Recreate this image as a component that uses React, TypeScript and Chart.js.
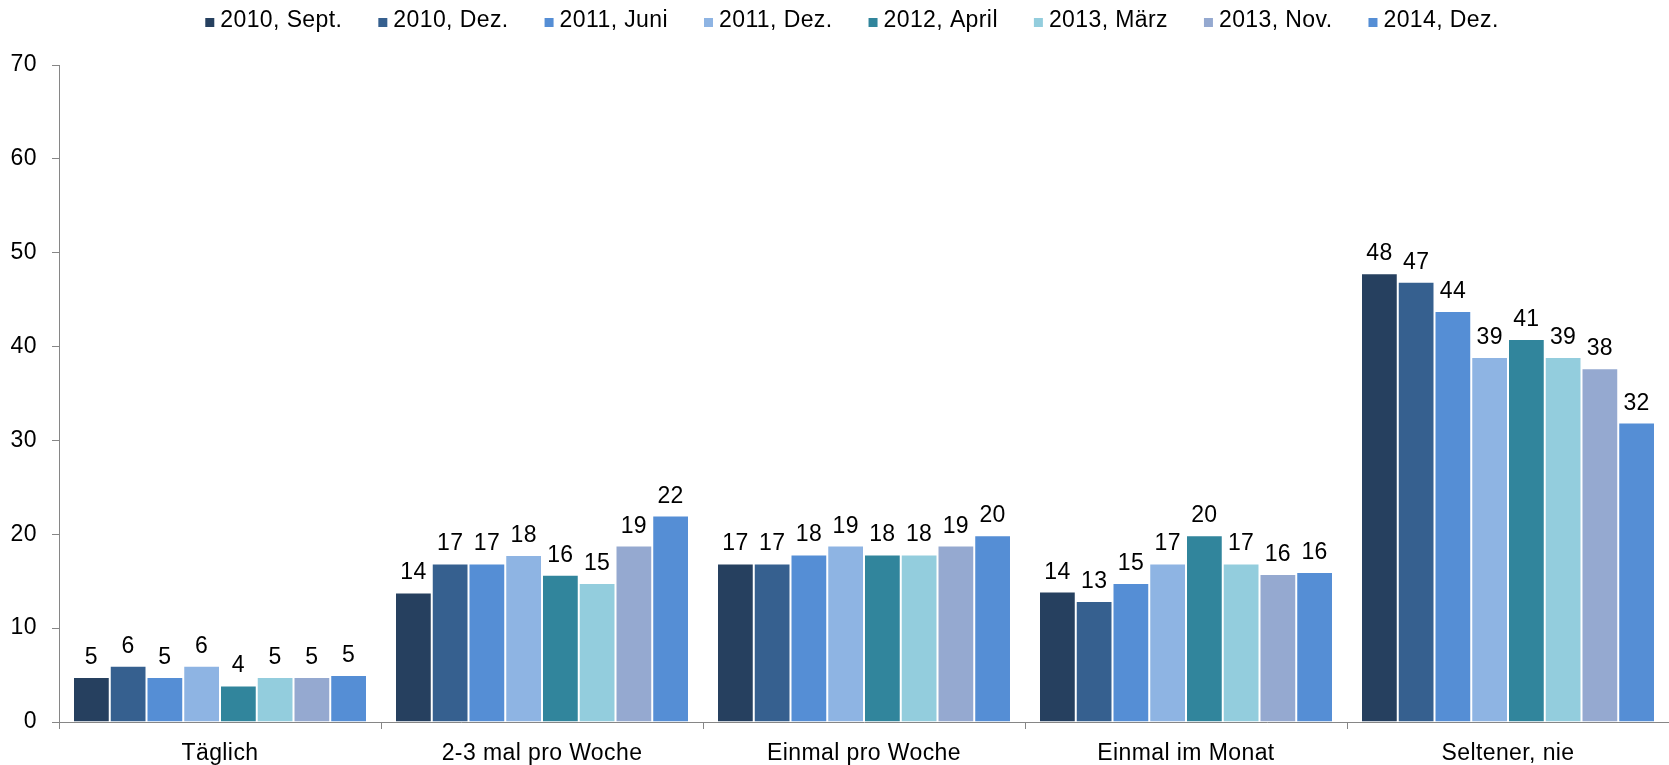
import React, { useEffect, useRef } from "react";
import { Chart, registerables } from "chart.js";

Chart.register(...registerables);

const categories = ["Täglich", "2-3 mal pro Woche", "Einmal pro Woche", "Einmal im Monat", "Seltener, nie"];
const seriesNames = ["2010, Sept.", "2010, Dez.", "2011, Juni", "2011, Dez.", "2012, April", "2013, März", "2013, Nov.", "2014, Dez."];
const seriesColors = ["#26405F", "#36608F", "#558ED5", "#8EB4E3", "#31859C", "#93CDDD", "#95A9D0", "#558ED5"];

const sept2010 = [4.8, 13.8, 16.9, 13.9, 47.8];
const dez2010 = [6.0, 16.9, 16.9, 12.9, 46.9];
const juni2011 = [4.8, 16.9, 17.85, 14.8, 43.8];
const dez2011 = [6.0, 17.8, 18.8, 16.9, 38.9];
const april2012 = [3.9, 15.7, 17.85, 19.9, 40.8];
const maerz2013 = [4.8, 14.8, 17.85, 16.9, 38.9];
const nov2013 = [4.8, 18.8, 18.8, 15.76, 37.7];
const dez2014 = [5.0, 22.0, 19.9, 15.97, 31.9];
const seriesValues = [sept2010, dez2010, juni2011, dez2011, april2012, maerz2013, nov2013, dez2014];

const yTicks = [0, 10, 20, 30, 40, 50, 60, 70];

const FONT = "'Liberation Sans', Arial, sans-serif";
const FONT_SIZE = 23;
const AXIS_COLOR = "#868686";
const LETTER_SPACING = "0.4px";

const textSetup = {
  id: "textSetup",
  beforeDraw(chart: any) {
    (chart.ctx as any).letterSpacing = LETTER_SPACING;
  },
};

const valueLabels = {
  id: "valueLabels",
  afterDatasetsDraw(chart: any) {
    const ctx = chart.ctx;
    ctx.save();
    ctx.font = `${FONT_SIZE}px ${FONT}`;
    ctx.fillStyle = "#000";
    ctx.textAlign = "center";
    ctx.textBaseline = "alphabetic";
    chart.data.datasets.forEach((ds: any, i: number) => {
      const meta = chart.getDatasetMeta(i);
      meta.data.forEach((el: any, j: number) => {
        const v = ds.data[j];
        ctx.fillText(String(Math.round(v)), el.x, el.y - 13);
      });
    });
    ctx.restore();
  },
};

const customLegend = {
  id: "customLegend",
  afterDraw(chart: any) {
    const ctx = chart.ctx;
    ctx.save();
    ctx.font = `${FONT_SIZE}px ${FONT}`;
    ctx.textBaseline = "middle";
    ctx.textAlign = "left";
    const box = 9;
    const gap = 6;
    const spacing = 36;
    const widths = seriesNames.map((n) => ctx.measureText(n).width);
    const total = widths.reduce((a, w) => a + box + gap + w, 0) + spacing * (seriesNames.length - 1);
    let x = 852 - total / 2;
    const y = 20;
    seriesNames.forEach((n, i) => {
      ctx.fillStyle = seriesColors[i];
      ctx.fillRect(x, 18, box, box);
      x += box + gap;
      ctx.fillStyle = "#000";
      ctx.fillText(n, x, y + 1);
      x += widths[i] + spacing;
    });
    ctx.restore();
  },
};

export default function App() {
  const ref = useRef<HTMLCanvasElement>(null);
  useEffect(() => {
    document.body.style.margin = "0";
    const canvas = ref.current!;
    const chart = new Chart(canvas, {
      type: "bar",
      data: {
        labels: categories,
        datasets: seriesNames.map((name, i) => ({
          label: name,
          data: seriesValues[i],
          backgroundColor: seriesColors[i],
          borderColor: "rgba(255,255,255,0.85)",
          borderWidth: 1,
          categoryPercentage: 0.913,
          barPercentage: 1.0,
        })),
      },
      options: {
        responsive: false,
        animation: false,
        layout: { padding: { top: 65, left: 0, right: 0, bottom: 0 } },
        plugins: {
          legend: { display: false },
          tooltip: { enabled: false },
        },
        scales: {
          x: {
            grid: {
              drawOnChartArea: false,
              drawTicks: true,
              tickLength: 7,
              color: AXIS_COLOR,
              offset: true,
            },
            border: { color: AXIS_COLOR, width: 1 },
            ticks: {
              color: "#000",
              font: { family: FONT, size: FONT_SIZE },
              padding: 11,
              maxRotation: 0,
              autoSkip: false,
            },
            afterFit(scale: any) {
              scale.height = 43;
            },
          },
          y: {
            min: 0,
            max: 70,
            afterBuildTicks(scale: any) {
              scale.ticks = yTicks.map((v) => ({ value: v }));
            },
            grid: {
              drawOnChartArea: false,
              drawTicks: true,
              tickLength: 7,
              color: AXIS_COLOR,
            },
            border: { color: AXIS_COLOR, width: 1 },
            ticks: {
              color: "#000",
              font: { family: FONT, size: FONT_SIZE },
              padding: 15,
            },
            afterFit(scale: any) {
              scale.width = 59;
            },
          },
        },
      },
      plugins: [textSetup, valueLabels, customLegend],
    });
    return () => chart.destroy();
  }, []);
  return (
    <div style={{ width: 1669, height: 765 }}>
      <canvas ref={ref} width={1669} height={765} style={{ display: "block" }} />
    </div>
  );
}
